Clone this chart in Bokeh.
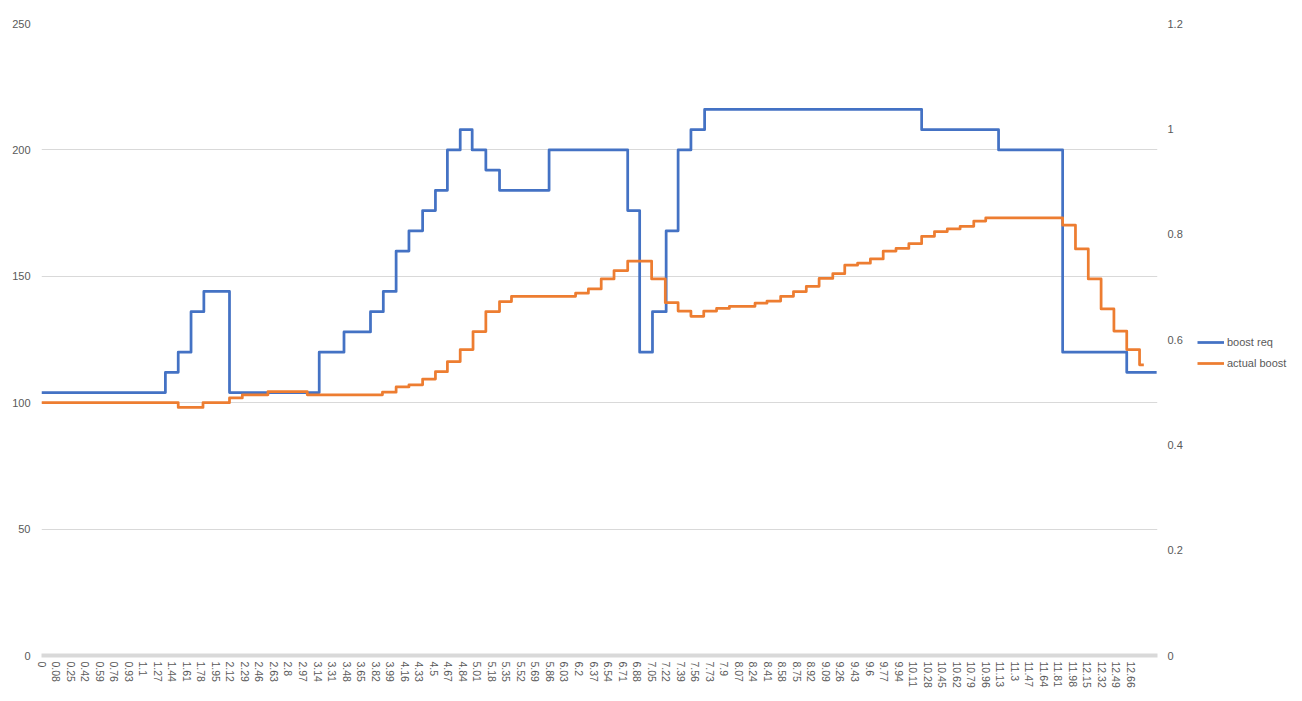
from bokeh.plotting import figure
from bokeh.layouts import row
from bokeh.models import (Range1d, LinearAxis, FixedTicker, Legend, LegendItem,
                          CustomJSTickFormatter)
from bokeh.embed import file_html
from bokeh.resources import INLINE

# ---- data (time in s; "0" label sits at the start of the log) ----
x_labels = ["0", "0.08", "0.25", "0.42", "0.59", "0.76", "0.93", "1.1", "1.27", "1.44",
            "1.61", "1.78", "1.95", "2.12", "2.29", "2.46", "2.63", "2.8", "2.97", "3.14",
            "3.31", "3.48", "3.65", "3.82", "3.99", "4.16", "4.33", "4.5", "4.67", "4.84",
            "5.01", "5.18", "5.35", "5.52", "5.69", "5.86", "6.03", "6.2", "6.37", "6.54",
            "6.71", "6.88", "7.05", "7.22", "7.39", "7.56", "7.73", "7.9", "8.07", "8.24",
            "8.41", "8.58", "8.75", "8.92", "9.09", "9.26", "9.43", "9.6", "9.77", "9.94",
            "10.11", "10.28", "10.45", "10.62", "10.79", "10.96", "11.13", "11.3", "11.47", "11.64",
            "11.81", "11.98", "12.15", "12.32", "12.49", "12.66"]
log_start = -0.09
log_end = 12.97

req_t = [-0.09, 1.36, 1.51, 1.66, 1.81, 2.11, 3.16, 3.45, 3.76, 3.91, 4.06, 4.21, 4.37, 4.52,
         4.66, 4.81, 4.95, 5.11, 5.27, 5.85, 6.77, 6.91, 7.06, 7.22, 7.36, 7.51, 7.67, 10.21,
         11.11, 11.86, 12.61, 12.96]
req_v = [104, 112, 120, 136, 144, 104, 120, 128, 136, 144, 160, 168, 176, 184, 200, 208, 200,
         192, 184, 200, 176, 120, 136, 168, 200, 208, 216, 208, 200, 120, 112, 112]

act_t = [-0.09, 1.51, 1.80, 2.11, 2.26, 2.56, 3.02, 3.90, 4.06, 4.21, 4.37, 4.52, 4.66, 4.81,
         4.96, 5.11, 5.27, 5.41, 6.16, 6.31, 6.46, 6.61, 6.77, 7.05, 7.21, 7.36, 7.51, 7.66,
         7.81, 7.96, 8.26, 8.40, 8.56, 8.71, 8.86, 9.01, 9.17, 9.31, 9.46, 9.61, 9.76, 9.91,
         10.06, 10.21, 10.36, 10.51, 10.66, 10.82, 10.96, 11.86, 12.01, 12.16, 12.31, 12.46,
         12.61, 12.76, 12.81]
act_v = [0.480, 0.471, 0.480, 0.489, 0.495, 0.501, 0.495, 0.500, 0.510, 0.514, 0.525, 0.539,
         0.558, 0.581, 0.615, 0.653, 0.672, 0.682, 0.688, 0.696, 0.715, 0.731, 0.749, 0.715,
         0.670, 0.654, 0.644, 0.654, 0.659, 0.663, 0.669, 0.673, 0.682, 0.691, 0.701, 0.716,
         0.725, 0.741, 0.745, 0.753, 0.768, 0.773, 0.782, 0.796, 0.805, 0.810, 0.815, 0.825,
         0.831, 0.817, 0.772, 0.715, 0.658, 0.616, 0.581, 0.552, 0.552]

series_names = ["boost req", "actual boost"]
left_ticks = [0, 50, 100, 150, 200, 250]
right_ticks = [0, 0.2, 0.4, 0.6, 0.8, 1, 1.2]

# ---- styling ----
FONT = "Liberation Sans"
TXT = "#595959"
BLUE = "#4472C4"
ORANGE = "#ED7D31"
LW = 2.75

p = figure(frame_width=1116, frame_height=632,
           x_range=Range1d(log_start, log_end), y_range=Range1d(0, 250),
           output_backend="svg", toolbar_location=None,
           min_border_left=41, min_border_top=23, min_border_right=30, min_border_bottom=45,
           background_fill_color="white", border_fill_color="white",
           outline_line_color=None)

p.extra_y_ranges = {"r": Range1d(0, 1.2)}

r1 = p.step(req_t, req_v, mode="after", line_color=BLUE, line_width=LW,
            line_join="round")
r2 = p.step(act_t, act_v, mode="after", line_color=ORANGE, line_width=LW,
            line_join="round", y_range_name="r")

# x axis: category-like labels
tick_pos = [round(0.17 * k - 0.09, 4) for k in range(len(x_labels))]
xa = p.xaxis[0]
xa.ticker = FixedTicker(ticks=tick_pos, minor_ticks=[])
xa.major_label_overrides = {pos: lab for pos, lab in zip(tick_pos, x_labels)}
xa.major_label_orientation = "vertical"
xa.major_label_text_font = FONT
xa.major_label_text_font_size = "10.5px"
xa.major_label_text_color = TXT
xa.major_label_standoff = 6
xa.major_tick_out = 0
xa.major_tick_in = 0
xa.major_tick_line_color = None
xa.minor_tick_line_color = None
xa.axis_line_color = "#D9D9D9"
xa.axis_line_width = 4

ya = p.yaxis[0]
ya.ticker = FixedTicker(ticks=left_ticks, minor_ticks=[])
ya.major_label_text_font = FONT
ya.major_label_text_font_size = "11px"
ya.major_label_text_color = TXT
ya.major_label_standoff = 11
ya.major_tick_out = 0
ya.major_tick_in = 0
ya.major_tick_line_color = None
ya.minor_tick_line_color = None
ya.axis_line_color = None

ra = LinearAxis(y_range_name="r", ticker=FixedTicker(ticks=right_ticks, minor_ticks=[]),
                formatter=CustomJSTickFormatter(code="return String(tick);"))
ra.major_label_text_font = FONT
ra.major_label_text_font_size = "11px"
ra.major_label_text_color = TXT
ra.major_label_standoff = 10
ra.major_tick_out = 0
ra.major_tick_in = 0
ra.major_tick_line_color = None
ra.minor_tick_line_color = None
ra.axis_line_color = None
p.add_layout(ra, "right")

p.xgrid.grid_line_color = None
p.ygrid.grid_line_color = "#D9D9D9"
p.ygrid.grid_line_width = 1

# ---- legend panel (beside the chart) ----
LEG_H = 700
q = figure(width=110, height=LEG_H, x_range=Range1d(0, 1), y_range=Range1d(0, 1),
           output_backend="svg", toolbar_location=None,
           x_axis_location=None, y_axis_location=None,
           min_border_left=0, min_border_right=0, min_border_top=0, min_border_bottom=0,
           background_fill_color="white", border_fill_color="white",
           outline_line_color=None)
q.xgrid.visible = False
q.ygrid.visible = False
nan = float("nan")
k1 = q.line(x=[nan, nan], y=[nan, nan], line_color=BLUE, line_width=LW)
k2 = q.line(x=[nan, nan], y=[nan, nan], line_color=ORANGE, line_width=LW)

legend = Legend(items=[LegendItem(label=series_names[0], renderers=[k1]),
                       LegendItem(label=series_names[1], renderers=[k2])],
                location=(10, 285), orientation="vertical",
                label_text_font=FONT, label_text_font_size="11px", label_text_color=TXT,
                glyph_width=27, glyph_height=14, label_height=14, label_standoff=3,
                spacing=7, padding=4, margin=0,
                background_fill_alpha=0, border_line_color=None)
q.add_layout(legend, "center")

layout = row(p, q, spacing=0)
open("out.html", "w").write(file_html(layout, INLINE))
